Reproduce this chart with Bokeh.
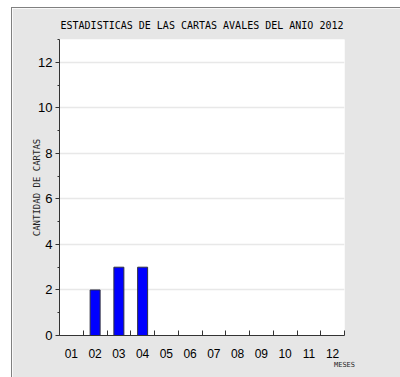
from bokeh.plotting import figure
from bokeh.models import Range1d, FixedTicker, SingleIntervalTicker
from bokeh.embed import file_html
from bokeh.resources import INLINE

months = [1, 2, 3, 4, 5, 6, 7, 8, 9, 10, 11, 12]
month_labels = ["01", "02", "03", "04", "05", "06", "07", "08", "09", "10", "11", "12"]
counts = [0, 2, 3, 3, 0, 0, 0, 0, 0, 0, 0, 0]
title_text = "ESTADISTICAS DE LAS CARTAS AVALES DEL ANIO 2012"
y_label = "CANTIDAD DE CARTAS"
x_label = "MESES"

GRAY = "#e6e6e6"

p = figure(width=389, height=370, output_backend="svg", toolbar_location=None,
           x_range=Range1d(0.5, 12.5), y_range=Range1d(0, 13),
           min_border_left=47, min_border_right=57, min_border_top=31, min_border_bottom=43,
           title=title_text, margin=(7, 0, 0, 11),
           styles={"border-left": "1px solid #808080", "border-top": "1px solid #808080"})

p.background_fill_color = "white"
p.border_fill_color = GRAY
p.outline_line_color = None

p.title.align = "center"
p.title.text_font = "DejaVu Sans Mono"
p.title.text_font_size = "10px"
p.title.text_font_style = "normal"
p.title.text_color = "black"
p.title.standoff = 17

# bars
p.vbar(x=months, top=counts, width=0.42, fill_color="#0000ff",
       line_color="#303040", line_width=1)

# y axis
ya = p.yaxis[0]
ya.ticker = SingleIntervalTicker(interval=2, num_minor_ticks=2)
ya.major_tick_out = 4
ya.major_tick_in = 0
ya.minor_tick_out = 2
ya.minor_tick_in = 0
ya.axis_line_color = "#333333"
ya.major_tick_line_color = "#333333"
ya.minor_tick_line_color = "#333333"
ya.major_label_text_font = "Liberation Sans"
ya.major_label_text_font_size = "13px"
ya.major_label_text_color = "black"
ya.major_label_standoff = 3
ya.axis_label = y_label
ya.axis_label_text_font = "DejaVu Sans Mono"
ya.axis_label_text_font_size = "9px"
ya.axis_label_text_font_style = "normal"
ya.axis_label_text_color = "#222222"
ya.axis_label_standoff = -7

# x axis
xa = p.xaxis[0]
xa.ticker = FixedTicker(ticks=months, minor_ticks=[m + 0.5 for m in months])
xa.major_label_overrides = {m: lab for m, lab in zip(months, month_labels)}
xa.major_tick_line_color = None
xa.minor_tick_in = 5
xa.minor_tick_out = 0
xa.minor_tick_line_color = "#333333"
xa.axis_line_color = "#333333"
xa.major_label_text_font = "Liberation Sans"
xa.major_label_text_font_size = "12px"
xa.major_label_text_color = "black"
xa.major_label_standoff = 7

xa.axis_label = x_label
xa.axis_label_text_font = "DejaVu Sans Mono"
xa.axis_label_text_font_size = "7px"
xa.axis_label_text_font_style = "normal"
xa.axis_label_text_color = "#222222"
xa.axis_label_standoff = 0
if "axis_label_align" in xa.properties():
    xa.axis_label_align = "end"

p.xgrid.grid_line_color = None
p.ygrid.ticker = SingleIntervalTicker(interval=2)
p.ygrid.grid_line_color = "#e8e8e8"
p.ygrid.grid_line_width = 1.5

open("out.html", "w").write(file_html(p, INLINE))
